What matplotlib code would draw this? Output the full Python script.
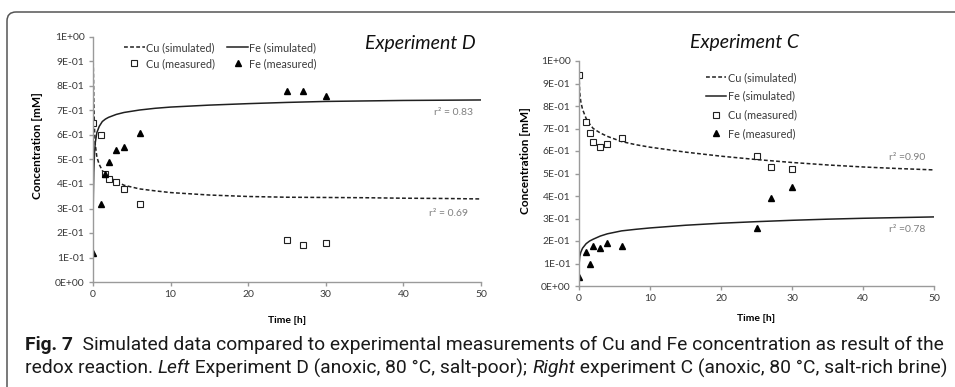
import matplotlib

matplotlib.use("Agg")
import matplotlib.pyplot as plt
from matplotlib.lines import Line2D
from matplotlib.path import Path
from matplotlib.patches import PathPatch

plt.rcParams["font.family"] = ["Lato", "DejaVu Sans"]

# ---- data ------------------------------------------------------------------
# left: Experiment D
d_sim_t = [0, 0.05, 0.1, 0.2, 0.3, 0.5, 0.8, 1.2, 1.6, 2, 3, 4, 6, 8, 10, 15, 20, 25, 30, 35, 40, 45, 50]
d_cu_sim = [0.95, 0.86, 0.74, 0.62, 0.56, 0.51, 0.48, 0.455, 0.44, 0.43, 0.41, 0.395, 0.38, 0.372, 0.365,
            0.355, 0.349, 0.346, 0.345, 0.344, 0.342, 0.341, 0.339]
d_fe_sim = [0.24, 0.36, 0.45, 0.53, 0.57, 0.61, 0.635, 0.655, 0.665, 0.672, 0.684, 0.692, 0.702, 0.709, 0.714,
            0.722, 0.728, 0.733, 0.737, 0.739, 0.741, 0.742, 0.743]
d_t_meas = [0, 1, 1.5, 2, 3, 4, 6, 25, 27, 30]
d_cu_meas = [0.65, 0.60, 0.44, 0.42, 0.41, 0.38, 0.32, 0.17, 0.15, 0.16]
d_fe_meas = [0.12, 0.32, 0.44, 0.49, 0.54, 0.55, 0.61, 0.78, 0.78, 0.76]
d_r2 = ["0.83", "0.69"]

# right: Experiment C
c_sim_t = [0, 0.1, 0.25, 0.5, 1, 1.5, 2, 3, 4, 6, 8, 10, 15, 20, 25, 30, 35, 40, 45, 50]
c_cu_sim = [0.94, 0.86, 0.82, 0.785, 0.745, 0.72, 0.70, 0.68, 0.665, 0.642, 0.628, 0.617, 0.595, 0.577,
            0.562, 0.549, 0.538, 0.529, 0.522, 0.516]
c_fe_sim = [0.09, 0.13, 0.15, 0.168, 0.188, 0.2, 0.208, 0.222, 0.232, 0.245, 0.252, 0.258, 0.27, 0.279,
            0.286, 0.292, 0.297, 0.301, 0.304, 0.307]
c_t_meas = [0, 1, 1.5, 2, 3, 4, 6, 25, 27, 30]
c_cu_meas = [0.94, 0.73, 0.68, 0.64, 0.62, 0.63, 0.66, 0.58, 0.53, 0.52]
c_fe_meas = [0.04, 0.15, 0.10, 0.18, 0.17, 0.19, 0.18, 0.26, 0.39, 0.44]
c_r2 = ["0.90", "0.78"]

y_ticks = [i / 10 for i in range(11)]
y_ticklabels = ["0E+00"] + [f"{i}E-01" for i in range(1, 10)] + ["1E+00"]
x_ticks = [0, 10, 20, 30, 40, 50]

TICK_C = "#3a3a3a"
SPINE_C = "#9a9a9a"
MARK_C = "#202020"

fig = plt.figure(figsize=(9.55, 3.87), dpi=100)

# outer rounded frame (top + left edge only visible)
r = 9
verts = [(7, 0), (7, 375 - r), (7, 375), (7 + r, 375), (960, 375)]
codes = [Path.MOVETO, Path.LINETO, Path.CURVE3, Path.CURVE3, Path.LINETO]
fig.add_artist(PathPatch(Path([(x / 955, y / 387) for x, y in verts], codes),
                         transform=fig.transFigure, fill=False, edgecolor="#555555", lw=1.1))


def panel(rect, t_sim, cu_sim, fe_sim, t_m, cu_m, fe_m):
    ax = fig.add_axes(rect)
    ax.plot(t_sim, cu_sim, color=MARK_C, lw=1.1, ls=(0, (2.5, 1.5)))
    ax.plot(t_sim, fe_sim, color=MARK_C, lw=1.1)
    ax.plot(t_m, cu_m, ls="none", marker="s", ms=5, mfc="white", mec=MARK_C, mew=0.8)
    ax.plot(t_m, fe_m, ls="none", marker="^", ms=5, color="black")
    ax.set_xlim(0, 50)
    ax.set_ylim(0, 1)
    ax.set_yticks(y_ticks)
    ax.set_yticklabels(y_ticklabels)
    ax.set_xticks(x_ticks)
    for s in ["top", "right"]:
        ax.spines[s].set_visible(False)
    for s in ["left", "bottom"]:
        ax.spines[s].set_color(SPINE_C)
        ax.spines[s].set_linewidth(1.0)
    ax.tick_params(axis="both", colors=SPINE_C, labelcolor=TICK_C, labelsize=7.5, length=3, width=1.0, pad=3)
    ax.set_ylabel("Concentration [mM]", fontsize=8.5, fontweight="bold")
    return ax


def handles():
    return [
        Line2D([], [], color=MARK_C, lw=1.1, ls=(0, (2.5, 1.5))),
        Line2D([], [], ls="none", marker="s", ms=5, mfc="white", mec=MARK_C, mew=0.8),
        Line2D([], [], color=MARK_C, lw=1.1),
        Line2D([], [], ls="none", marker="^", ms=5, color="black"),
    ]


# left panel
axd = panel([93 / 955, 1 - 282 / 387, 388 / 955, 245 / 387],
            d_sim_t, d_cu_sim, d_fe_sim, d_t_meas, d_cu_meas, d_fe_meas)
axd.yaxis.set_label_coords(-0.129, 0.555)
axd.set_xlabel("Time [h]", fontsize=7.5, fontweight="bold", labelpad=12)
axd.legend(handles(), ["Cu (simulated)", "Cu (measured)", "Fe (simulated)", "Fe (measured)"],
           ncol=2, frameon=False, fontsize=7.8, handlelength=1.9, handletextpad=0.15,
           columnspacing=1.1, labelspacing=0.5, loc="upper left", bbox_to_anchor=(0.055, 1.02),
           labelcolor=TICK_C)
axd.text(0.985, 0.975, "Experiment D", transform=axd.transAxes, ha="right", va="center",
         fontsize=14, style="italic", color="#111111")
axd.text(46.5, 0.69, "r² = " + d_r2[0], ha="center", va="center", fontsize=7.5, color="#808080")
axd.text(45.8, 0.28, "r² = " + d_r2[1], ha="center", va="center", fontsize=7.5, color="#808080")

# right panel
axc = panel([579 / 955, 1 - 286 / 387, 355 / 955, 225 / 387],
            c_sim_t, c_cu_sim, c_fe_sim, c_t_meas, c_cu_meas, c_fe_meas)
axc.yaxis.set_label_coords(-0.135, 0.556)
axc.set_xlabel("Time [h]", fontsize=7.5, fontweight="bold", labelpad=8)
axc.legend([handles()[i] for i in (0, 2, 1, 3)],
           ["Cu (simulated)", "Fe (simulated)", "Cu (measured)", "Fe (measured)"],
           ncol=1, frameon=False, fontsize=7.8, handlelength=1.9, handletextpad=0.15,
           labelspacing=0.72, loc="upper left", bbox_to_anchor=(0.33, 0.995), labelcolor=TICK_C)
axc.text(0.466, 1.084, "Experiment C", transform=axc.transAxes, ha="center", va="center",
         fontsize=14, style="italic", color="#111111")
axc.text(46.2, 0.573, "r² =" + c_r2[0], ha="center", va="center", fontsize=7.5, color="#808080")
axc.text(46.2, 0.25, "r² =" + c_r2[1], ha="center", va="center", fontsize=7.5, color="#808080")

# caption with mixed styles, scaled so line 1 spans the reference width
CAP_FONT = ["Roboto", "Open Sans", "DejaVu Sans"]
cap_lines = [
    [("Fig. 7", "bold", "normal"),
     ("  Simulated data compared to experimental measurements of Cu and Fe concentration as result of the",
      "normal", "normal")],
    [("redox reaction. ", "normal", "normal"), ("Left", "normal", "italic"),
     (" Experiment D (anoxic, 80 °C, salt-poor); ", "normal", "normal"), ("Right", "normal", "italic"),
     (" experiment C (anoxic, 80 °C, salt-rich brine)", "normal", "normal")],
]
cap_y = [1 - 345 / 387, 1 - 368 / 387]
renderer = fig.canvas.get_renderer()


def line_width(segs, size):
    w = 0
    for txt, wt, st in segs:
        t = fig.text(0, 0, txt, fontsize=size, fontweight=wt, style=st, family=CAP_FONT)
        w += t.get_window_extent(renderer).width
        t.remove()
    return w


cap_size = 12.0 * (943 - 25) / line_width(cap_lines[0], 12.0)
for segs, yy in zip(cap_lines, cap_y):
    x = 25 / 955
    for txt, wt, st in segs:
        t = fig.text(x, yy, txt, fontsize=cap_size, fontweight=wt, style=st, family=CAP_FONT,
                     ha="left", va="center", color="#1a1a1a")
        x += t.get_window_extent(renderer).width / fig.bbox.width

fig.savefig("out.png", dpi=100)
